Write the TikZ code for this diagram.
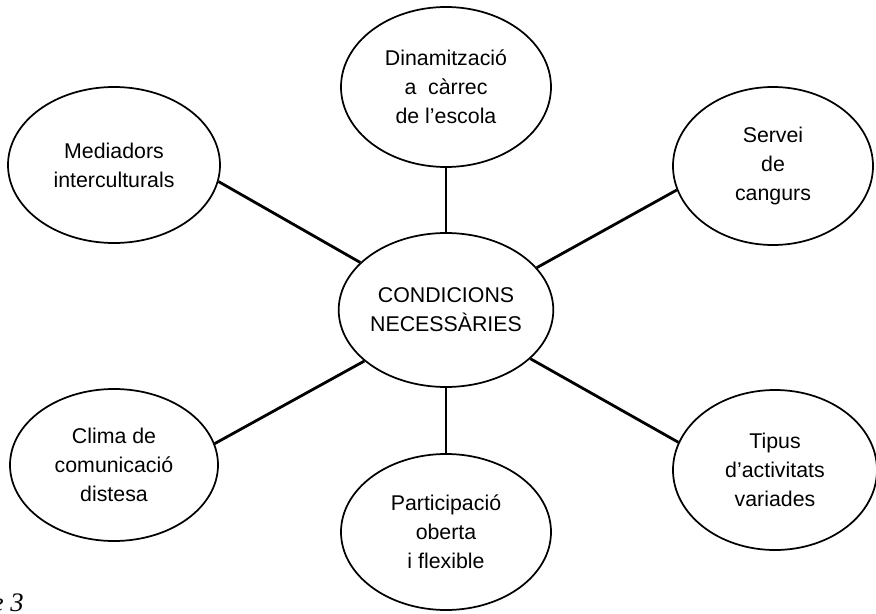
\documentclass[tikz,border=0pt]{standalone}
\usepackage{fontspec}
\setmainfont{Liberation Sans}
\newfontfamily\capfont{Liberation Serif}
\usetikzlibrary{shapes.geometric}
\begin{document}
\begin{tikzpicture}[x=0.75pt,y=-0.75pt,
  bubble/.style={ellipse,draw,line width=1.3pt,inner sep=0pt,align=center,
    font=\fontsize{16}{21.75}\selectfont},
  link/.style={line width=2.1pt}]
\useasboundingbox (0,0) rectangle (876,614);
\node[bubble,minimum width=156pt,minimum height=115.5pt] (c) at (446,310) {CONDICIONS\\NECESSÀRIES};
\node[bubble,minimum width=157.5pt,minimum height=120pt] (top) at (446,87) {Dinamització\\a \ càrrec\\de l’escola};
\node[bubble,minimum width=159pt,minimum height=117pt] (med) at (114,165) {Mediadors\\interculturals};
\node[bubble,minimum width=150pt,minimum height=118.5pt] (ser) at (773,166) {Servei\\de\\cangurs};
\node[bubble,minimum width=156pt,minimum height=114pt] (cli) at (114,465) {Clima de\\comunicació\\distesa};
\node[bubble,minimum width=157.5pt,minimum height=117pt] (par) at (446,532) {Participació\\oberta\\i flexible};
\node[bubble,minimum width=153pt,minimum height=120pt] (tip) at (775,470) {Tipus\\d’activitats\\variades};
\draw[link] (c.north) -- (top.south);
\draw[link] (c.south) -- (par.north);
\draw[link] (c.151.8) -- (med.-9.9);
\draw[link] (c.25.8) -- (ser.194);
\draw[link] (c.212) -- (cli.12.3);
\draw[link] (c.-30) -- (tip.164);
\node[anchor=base east,inner sep=0pt,font=\capfont\itshape\fontsize{20}{22}\selectfont] (cap) at (24,611) {e 3};
\end{tikzpicture}
\end{document}
